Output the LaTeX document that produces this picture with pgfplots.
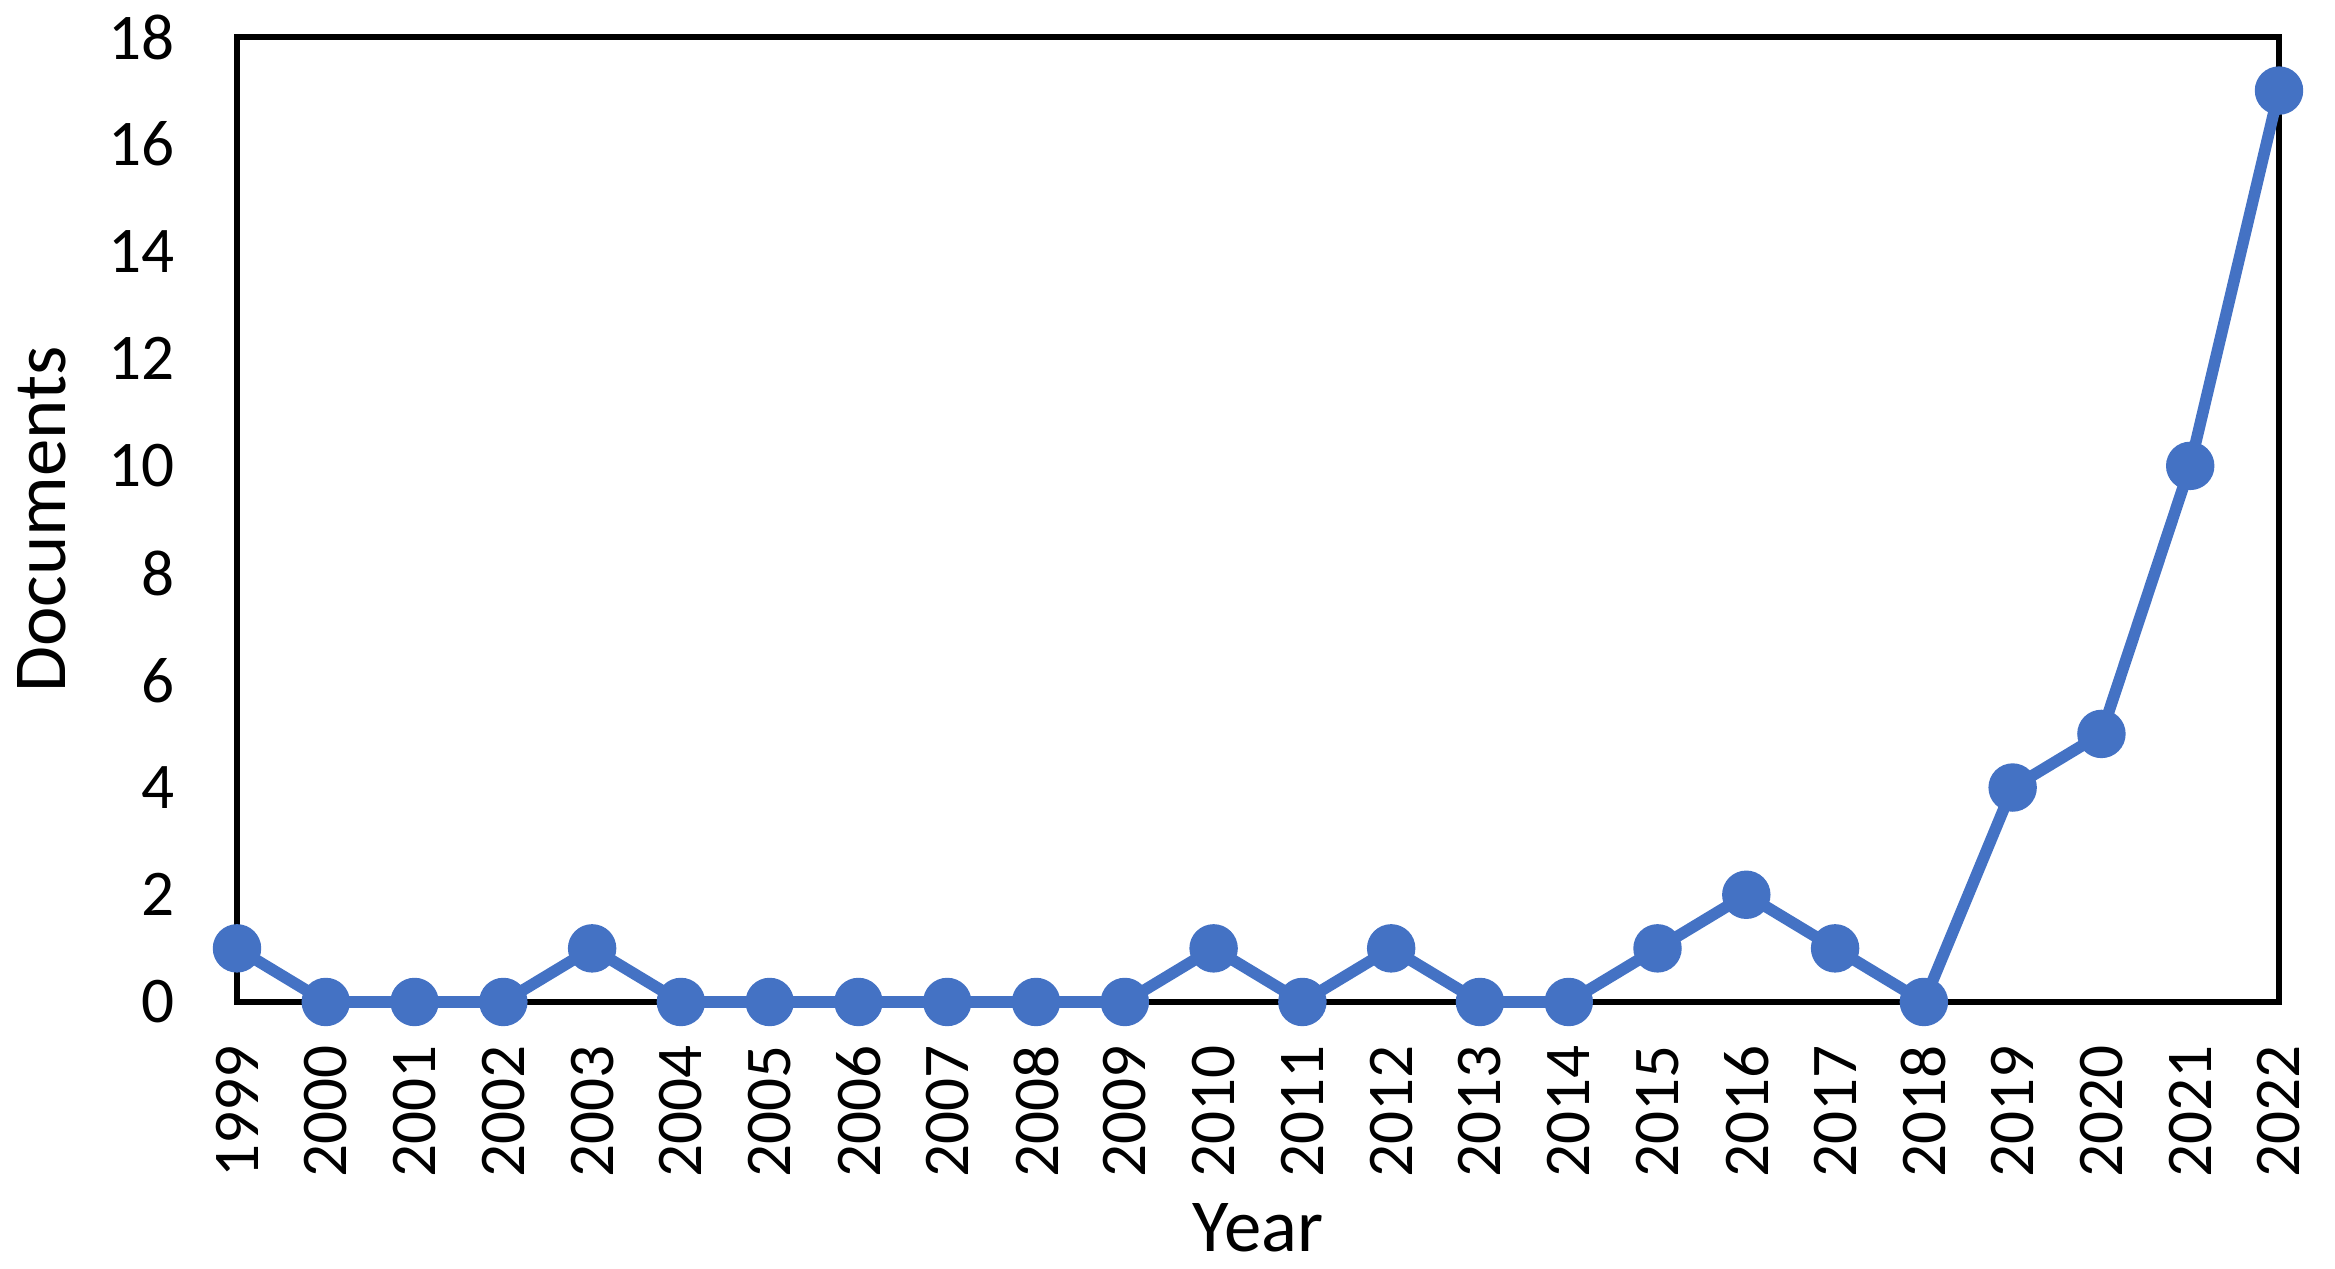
\documentclass[border=0pt]{standalone}
\usepackage{pgfplots}
\pgfplotsset{compat=1.18}
\usepackage{fontspec}
\setmainfont{Carlito}
\definecolor{xlblue}{HTML}{4472C4}
\begin{document}
\begin{tikzpicture}
\useasboundingbox (-59.25pt,-66.75pt) rectangle (524.5pt,250.5pt);
\begin{axis}[
  at={(0,0)}, anchor=south west,
  scale only axis,
  width=510.5pt, height=241.25pt,
  xmin=1999, xmax=2022, ymin=0, ymax=18,
  xtick={1999,2000,...,2022},
  ytick={0,2,...,18},
  major tick length=0pt,
  axis line style={line width=1.5pt, black},
  /pgf/number format/assume math mode=true,
  /pgf/number format/1000 sep={},
  tick label style={font=\fontsize{16.3}{19}\selectfont, inner sep=0pt},
  xticklabel style={rotate=90, anchor=east},
  yticklabel style={anchor=east},
  xticklabel shift=10.75pt,
  yticklabel shift=15.5pt,
  xlabel={Year}, ylabel={Documents},
  label style={font=\fontsize{18.7}{22}\selectfont},
  xlabel style={at={(axis description cs:0.5,-0.25907)}, anchor=base},
  ylabel style={at={(axis description cs:-0.08423,0.5)}, rotate=0, anchor=base},
  clip=false,
]
\addplot[color=xlblue, line width=2.9pt, mark=*, mark size=4.6pt,
  mark options={draw=none, fill=xlblue}] coordinates {
  (1999,1) (2000,0) (2001,0) (2002,0) (2003,1) (2004,0) (2005,0) (2006,0)
  (2007,0) (2008,0) (2009,0) (2010,1) (2011,0) (2012,1) (2013,0) (2014,0)
  (2015,1) (2016,2) (2017,1) (2018,0) (2019,4) (2020,5) (2021,10) (2022,17)
};
\end{axis}
\end{tikzpicture}
\end{document}
